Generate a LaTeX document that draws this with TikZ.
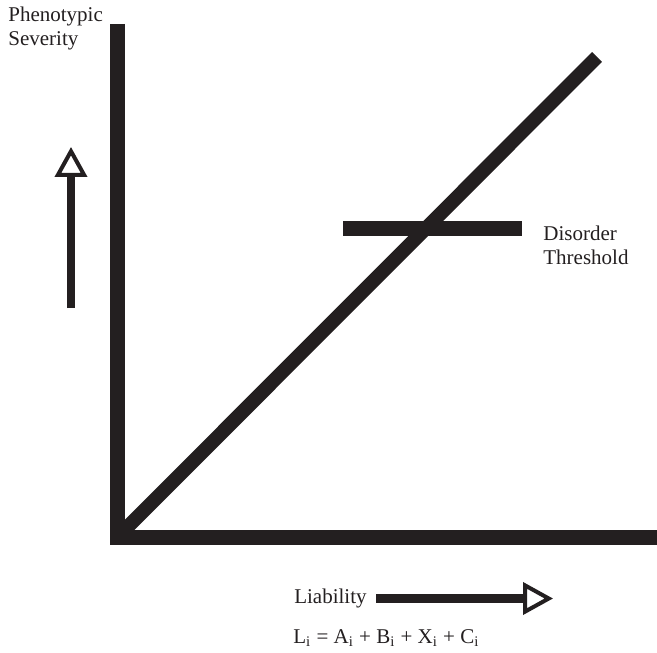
\documentclass[tikz,border=0pt]{standalone}
\usepackage{fontspec}
\setmainfont{Liberation Serif}
\usetikzlibrary{arrows.meta,positioning}
\definecolor{ink}{HTML}{231F20}

\begin{document}
\begin{tikzpicture}[
  x=0.5pt,y=-0.5pt,
  axisline/.style={draw=ink,line width=7.5pt,line join=miter},
  arrowline/.style={draw=ink,-{Triangle[open,line width=2pt,length=#1,width=16pt]}},
  arrowline/.default=15pt,
  lbl/.style={inner sep=0pt,align=left,text=ink,font=\fontsize{10.5}{12}\selectfont}
]
  \useasboundingbox (0,0) rectangle (657,652);
  \coordinate (origin) at (117.5,537);
  \coordinate (ytop) at (117.5,24);
  \coordinate (xend) at (657,537);
  \coordinate (diagtop) at (597,57);
  \coordinate (thl) at (343,228.5);
  \coordinate (thr) at (522,228.5);
  \coordinate (upfoot) at (71,308);
  \coordinate (uptip) at (71,147);
  \coordinate (lstart) at (376,598.5);
  \coordinate (ltip) at (553,598.5);
  % axes, liability line and threshold
  \draw[axisline] (ytop) -- (origin) -- (xend);
  \draw[axisline,line width=7pt] (origin) -- (diagtop);
  \draw[axisline] (thl) -- (thr);
  % direction arrows
  \draw[arrowline,line width=4pt] (upfoot) -- (uptip);
  \draw[arrowline=15pt,line width=4.5pt] (lstart) -- (ltip);
  % labels
  \node[lbl,anchor=north west] (severity) at (8,7) {Phenotypic\\Severity};
  \node[lbl,anchor=north west] (threshold) at (543,226) {Disorder\\Threshold};
  \node[lbl,left=4.5pt of lstart] (liability) {Liability};
  \node[lbl,anchor=base west] (formula) at (293,643)
    {L\textsubscript{i} = A\textsubscript{i} + B\textsubscript{i} + X\textsubscript{i} + C\textsubscript{i}};
\end{tikzpicture}
\end{document}
